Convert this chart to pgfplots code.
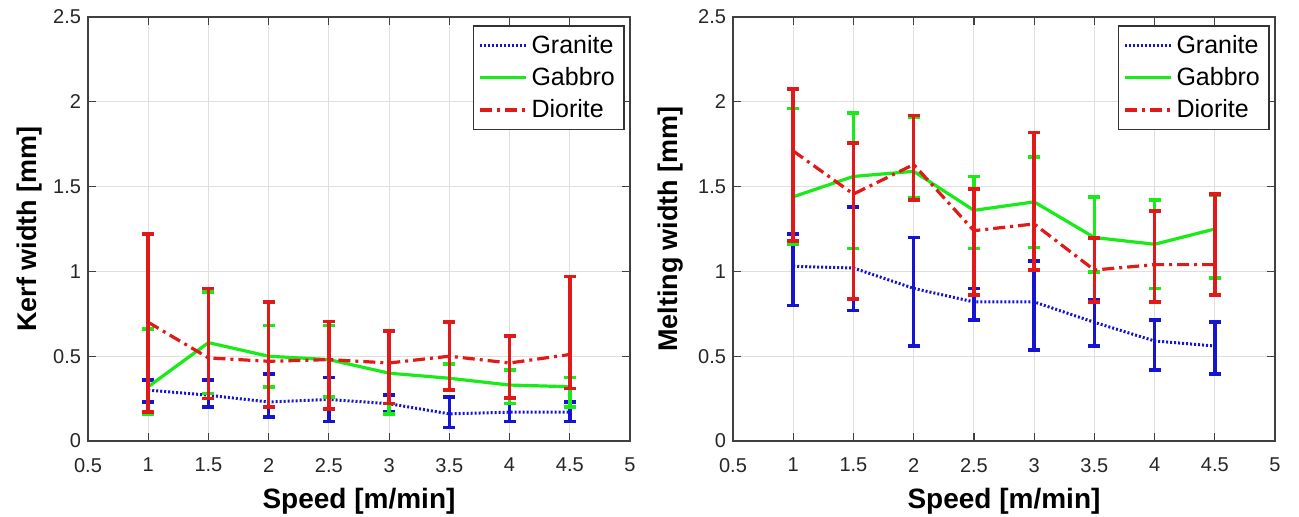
\documentclass[border=0pt]{standalone}
\usepackage{fontspec}
\setmainfont{Liberation Sans}
\usepackage{pgfplots}
\pgfplotsset{compat=1.18}

\definecolor{cBlue}{RGB}{20,20,210}
\definecolor{cGreen}{RGB}{25,235,25}
\definecolor{cRed}{RGB}{225,25,25}

\pgfplotsset{
  rockaxis/.style={
    scale only axis, width=271pt, height=212pt,
    xmin=0.5, xmax=5, ymin=0, ymax=2.5,
    xtick={0.5,1,...,5}, ytick={0,0.5,...,2.5},
    grid=major, grid style={gray!25, line width=0.5pt},
    axis line style={line width=0.8pt, black!75},
    tick style={black!75, line width=0.6pt}, major tick length=4pt,
    tick label style={font=\fontsize{10}{12}\selectfont, black!85},
    xticklabel style={yshift=-5pt},
    /pgf/number format/assume math mode=true,
    xlabel={Speed [m/min]},
    xlabel style={font=\fontsize{14}{16}\selectfont\bfseries, at={(axis description cs:0.5,-0.142)}, anchor=center},
    ylabel style={font=\fontsize{13.5}{16}\selectfont\bfseries, anchor=center},
    legend style={at={(rel axis cs:0.99,0.98)}, anchor=north east, font=\fontsize{12.5}{15}\selectfont,
      draw=black!80, line width=0.7pt, row sep=1.5pt, inner sep=2.5pt},
    legend cell align=left,
    legend image code/.code={\draw[#1] (0pt,0pt) -- (23pt,0pt);},
  },
  gran/.style={mark=none, cBlue, line width=1.5pt, dash pattern=on 1pt off 1pt,
    error bars/.cd, y dir=both, y explicit,
    error bar style={solid, line width=1.8pt},
    error mark options={rotate=90, mark size=3pt, line width=1.8pt, solid}},
  gabb/.style={mark=none, cGreen, line width=1.6pt, solid,
    error bars/.cd, y dir=both, y explicit,
    error bar style={solid, line width=1.8pt},
    error mark options={rotate=90, mark size=3pt, line width=1.8pt, solid}},
  dior/.style={mark=none, cRed, line width=1.6pt, dash pattern=on 6pt off 2.5pt on 1.5pt off 2.5pt,
    error bars/.cd, y dir=both, y explicit,
    error bar style={solid, line width=1.8pt},
    error mark options={rotate=90, mark size=3pt, line width=1.8pt, solid}},
}

\begin{document}
\begin{tikzpicture}
\useasboundingbox (-44pt,-37.5pt) rectangle (605.5pt,220.5pt);

\begin{axis}[rockaxis, at={(0pt,0pt)}, anchor=south west,
  ylabel={Kerf width [mm]},
  ylabel style={at={(axis description cs:-0.107,0.5)}}]
\addplot[gran] coordinates {
  (1,0.30) += (0,0.06) -= (0,0.07)
  (1.5,0.27) += (0,0.09) -= (0,0.07)
  (2,0.23) += (0,0.165) -= (0,0.09)
  (2.5,0.245) += (0,0.13) -= (0,0.13)
  (3,0.22) += (0,0.05) -= (0,0.05)
  (3.5,0.16) += (0,0.10) -= (0,0.08)
  (4,0.17) += (0,0.085) -= (0,0.055)
  (4.5,0.17) += (0,0.06) -= (0,0.055)
};
\addlegendentry{Granite}
\addplot[gabb] coordinates {
  (1,0.32) += (0,0.34) -= (0,0.16)
  (1.5,0.58) += (0,0.30) -= (0,0.30)
  (2,0.50) += (0,0.18) -= (0,0.18)
  (2.5,0.48) += (0,0.20) -= (0,0.22)
  (3,0.40) += (0,0.25) -= (0,0.24)
  (3.5,0.37) += (0,0.085) -= (0,0.07)
  (4,0.33) += (0,0.09) -= (0,0.11)
  (4.5,0.32) += (0,0.055) -= (0,0.12)
};
\addlegendentry{Gabbro}
\addplot[dior] coordinates {
  (1,0.70) += (0,0.52) -= (0,0.53)
  (1.5,0.49) += (0,0.41) -= (0,0.24)
  (2,0.47) += (0,0.35) -= (0,0.27)
  (2.5,0.48) += (0,0.225) -= (0,0.29)
  (3,0.46) += (0,0.19) -= (0,0.24)
  (3.5,0.50) += (0,0.20) -= (0,0.20)
  (4,0.46) += (0,0.16) -= (0,0.205)
  (4.5,0.51) += (0,0.46) -= (0,0.20)
};
\addlegendentry{Diorite}
\end{axis}

\begin{axis}[rockaxis, at={(322.5pt,0pt)}, anchor=south west,
  ylabel={Melting width [mm]},
  ylabel style={at={(axis description cs:-0.116,0.5)}}]
\addplot[gran] coordinates {
  (1,1.03) += (0,0.19) -= (0,0.23)
  (1.5,1.02) += (0,0.36) -= (0,0.25)
  (2,0.90) += (0,0.30) -= (0,0.34)
  (2.5,0.82) += (0,0.08) -= (0,0.105)
  (3,0.82) += (0,0.24) -= (0,0.285)
  (3.5,0.70) += (0,0.13) -= (0,0.14)
  (4,0.59) += (0,0.125) -= (0,0.17)
  (4.5,0.56) += (0,0.14) -= (0,0.165)
};
\addlegendentry{Granite}
\addplot[gabb] coordinates {
  (1,1.44) += (0,0.52) -= (0,0.28)
  (1.5,1.56) += (0,0.375) -= (0,0.425)
  (2,1.59) += (0,0.32) -= (0,0.155)
  (2.5,1.36) += (0,0.20) -= (0,0.225)
  (3,1.41) += (0,0.265) -= (0,0.27)
  (3.5,1.20) += (0,0.24) -= (0,0.205)
  (4,1.16) += (0,0.26) -= (0,0.26)
  (4.5,1.25) += (0,0.20) -= (0,0.29)
};
\addlegendentry{Gabbro}
\addplot[dior] coordinates {
  (1,1.71) += (0,0.365) -= (0,0.53)
  (1.5,1.456) += (0,0.30) -= (0,0.62)
  (2,1.63) += (0,0.29) -= (0,0.21)
  (2.5,1.24) += (0,0.245) -= (0,0.38)
  (3,1.28) += (0,0.54) -= (0,0.27)
  (3.5,1.008) += (0,0.19) -= (0,0.19)
  (4,1.04) += (0,0.315) -= (0,0.22)
  (4.5,1.04) += (0,0.415) -= (0,0.18)
};
\addlegendentry{Diorite}
\end{axis}
\end{tikzpicture}
\end{document}
